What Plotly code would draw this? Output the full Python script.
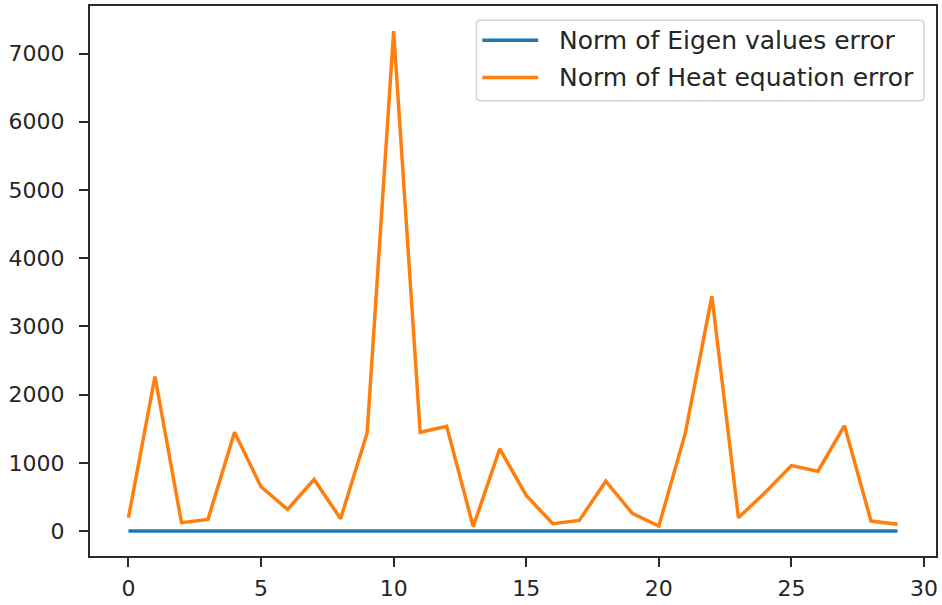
import plotly.graph_objects as go

# Iteration index
steps = list(range(30))

# Norm of the eigenvalue error per iteration (essentially zero throughout)
eigen_error = [0.0] * 30

# Norm of the heat-equation error per iteration
heat_error = [195, 2265, 123, 171, 1447, 649, 317, 756, 181, 1438,
              7330, 1447, 1535, 64, 1204, 522, 108, 156, 731, 259,
              73, 1438, 3444, 195, 561, 960, 877, 1545, 146, 98]

x_ticks = [0, 5, 10, 15, 20, 25, 30]
y_ticks = [0, 1000, 2000, 3000, 4000, 5000, 6000, 7000]

series_names = ["Norm of Eigen values error", "Norm of Heat equation error"]
series_colors = ["#1f77b4", "#ff7f0e"]

fig = go.Figure()
for name, values, color in zip(series_names, [eigen_error, heat_error], series_colors):
    fig.add_trace(go.Scatter(x=steps, y=values, mode="lines", name=name,
                             line=dict(color=color, width=3.5), showlegend=False))

axis_common = dict(showgrid=False, zeroline=False, showline=True, linecolor="#2a2a2a",
                   linewidth=2, mirror=True, ticks="outside", ticklen=9, tickwidth=2,
                   tickcolor="#2a2a2a", tickfont=dict(size=22, color="#262626"))

fig.update_xaxes(range=[-1.45, 30.45], tickvals=x_ticks, ticklabelstandoff=3, **axis_common)
fig.update_yaxes(range=[-366, 7697], tickvals=y_ticks, ticklabelstandoff=10, **axis_common)

# Legend box (paper coordinates) with rounded corners
bx0, bx1, by0, by1 = 0.4567, 0.9858, 0.8279, 0.9741
rx, ry = 0.0050, 0.0077
box_path = (f"M{bx0 + rx},{by0} L{bx1 - rx},{by0} Q{bx1},{by0} {bx1},{by0 + ry} "
            f"L{bx1},{by1 - ry} Q{bx1},{by1} {bx1 - rx},{by1} "
            f"L{bx0 + rx},{by1} Q{bx0},{by1} {bx0},{by1 - ry} "
            f"L{bx0},{by0 + ry} Q{bx0},{by0} {bx0 + rx},{by0} Z")
shapes = [dict(type="path", xref="paper", yref="paper", path=box_path,
               fillcolor="rgba(255,255,255,0.9)", line=dict(color="#d3d3d3", width=1.5))]
annotations = []
entry_y = [0.9379, 0.8701]
for name, color, ey in zip(series_names, series_colors, entry_y):
    shapes.append(dict(type="line", xref="paper", yref="paper",
                       x0=0.4638, x1=0.5298, y0=ey, y1=ey,
                       line=dict(color=color, width=3.5)))
    annotations.append(dict(xref="paper", yref="paper", x=0.5522, y=ey,
                            xanchor="left", yanchor="middle", showarrow=False,
                            text=name, font=dict(size=25, color="#262626")))

fig.update_layout(
    width=942, height=605,
    margin=dict(l=90, r=4, t=5, b=48),
    paper_bgcolor="white", plot_bgcolor="white",
    font=dict(family="DejaVu Sans", size=22, color="#262626"),
    showlegend=False,
    shapes=shapes,
    annotations=annotations,
)

fig.write_html("out.html")
